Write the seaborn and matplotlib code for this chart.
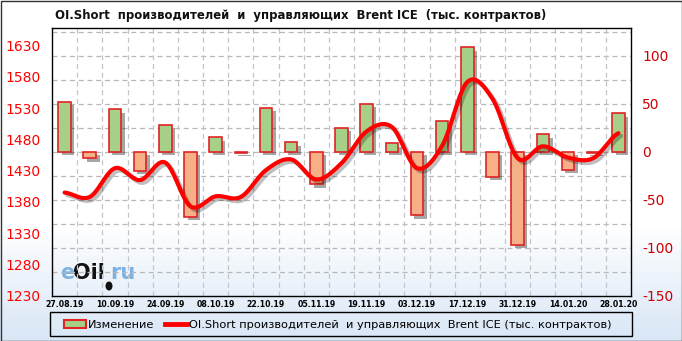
import numpy as np
import pandas as pd
import matplotlib
matplotlib.use("Agg")
import matplotlib.pyplot as plt
import seaborn as sns
from matplotlib import patheffects as pe
from matplotlib.patches import Patch, Rectangle, Ellipse
from matplotlib.lines import Line2D

# ---------------- data ----------------
dates = ["27.08.19", "03.09.19", "10.09.19", "17.09.19", "24.09.19", "01.10.19",
         "08.10.19", "15.10.19", "22.10.19", "29.10.19", "05.11.19", "12.11.19",
         "19.11.19", "26.11.19", "03.12.19", "10.12.19", "17.12.19", "24.12.19",
         "31.12.19", "07.01.20", "14.01.20", "21.01.20", "28.01.20"]
change = [52, -7, 44, -20, 28, -68, 15, -1, 46, 10, -34, 25,
          50, 9, -66, 32, 109, -26, -97, 18, -19, -1, 40]
oi_short = [1395, 1388, 1434, 1415, 1443, 1373, 1389, 1388, 1431, 1448, 1416, 1442,
            1493, 1500, 1434, 1470, 1572, 1545, 1450, 1469, 1451, 1450, 1490]
left_ticks = [1230, 1280, 1330, 1380, 1430, 1480, 1530, 1580, 1630]
right_ticks = [-150, -100, -50, 0, 50, 100]

title = "OI.Short  производителей  и  управляющих  Brent ICE  (тыс. контрактов)"
bar_label = "Изменение"
line_label = "OI.Short производителей  и управляющих  Brent ICE (тыс. контрактов)"

GREEN = "#a6cf88"
ORANGE = "#f6b088"
EDGE = "#e02424"

df = pd.DataFrame({"date": dates, "change": change, "oi": oi_short})
bar_colors = [GREEN if v >= 0 else ORANGE for v in change]

# smooth curve (Catmull-Rom) through the data points
def catmull_rom(y, n=24):
    y = np.asarray(y, float)
    m = len(y)
    xs, ys = [], []
    for i in range(m - 1):
        p0 = y[max(i - 1, 0)]
        p1 = y[i]
        p2 = y[i + 1]
        p3 = y[min(i + 2, m - 1)]
        t = np.linspace(0, 1, n, endpoint=False)
        yy = 0.5 * ((2 * p1) + (-p0 + p2) * t + (2 * p0 - 5 * p1 + 4 * p2 - p3) * t ** 2
                    + (-p0 + 3 * p1 - 3 * p2 + p3) * t ** 3)
        xs.append(i + t)
        ys.append(yy)
    xs.append([m - 1])
    ys.append([y[-1]])
    return np.concatenate(xs), np.concatenate(ys)

sx, sy = catmull_rom(oi_short)
smooth = pd.DataFrame({"x": sx, "y": sy})

# ---------------- figure ----------------
W, H = 682, 341
fig = plt.figure(figsize=(W / 100, H / 100), dpi=100)

# background gradient
bg = fig.add_axes([0, 0, 1, 1], zorder=0)
grad = np.ones((H, 1, 3))
top_c = np.array([1.0, 1.0, 1.0])
bot_c = np.array([0xd8, 0xe6, 0xf6]) / 255
start = 225
for r in range(H):
    f = 0 if r < start else (r - start) / (H - start)
    grad[r, 0] = top_c * (1 - f) + bot_c * f
bg.imshow(grad, aspect="auto", extent=[0, 1, 0, 1], origin="upper")
bg.set_axis_off()

# watermark (behind the plot)
wm_y = 1 - 279 / H
fig.text(60 / W, wm_y, "e", fontsize=15, fontweight="bold", color="#7fb2e0", va="baseline", zorder=1)
fig.text(73.5 / W, wm_y, "Oil", fontsize=15, fontweight="bold", color="#111111", va="baseline", zorder=1)
fig.text(110 / W, wm_y, "ru", fontsize=15, fontweight="bold", color="#7fb2e0", va="baseline", zorder=1)
fig.patches.append(Ellipse((109 / W, 1 - 286 / H), 7 / W, 9 / H, transform=fig.transFigure,
                           facecolor="#111111", edgecolor="none", zorder=1))

L, R, T, B = 52, 631, 28, 295.7
ax = fig.add_axes([L / W, 1 - B / H, (R - L) / W, (B - T) / H], zorder=2)
ax.set_facecolor("none")

sns.barplot(data=df, x="date", y="change", hue="date", palette=bar_colors,
            width=0.5, legend=False, ax=ax, zorder=3, saturation=1)
for p in ax.patches:
    p.set_edgecolor(EDGE)
    p.set_linewidth(1.2)
    p.set_path_effects([pe.SimplePatchShadow(offset=(2.5, -2.5), shadow_rgbFace="black", alpha=0.35),
                        pe.Normal()])

ax.set_xlim(-0.5, len(dates) - 0.5)
ax.set_ylim(-150, 128.9)

# grid
for v in np.arange(-125, 129, 25):
    ax.axhline(v, color="#b8b8b8", lw=0.9, ls=(0, (4, 3)), zorder=1)
for k in range(1, len(dates)):
    ax.axvline(k - 0.5, color="#c4c4c4", lw=0.9, ls=(0, (4, 3)), zorder=1)

ax.set_xticks(range(0, len(dates), 2))
ax.set_xticklabels(dates[::2], fontsize=5.6, fontweight="bold")
ax.tick_params(axis="x", length=0, pad=3)
ax.set_xlabel("")
ax.set_ylabel("")
for s in ax.spines.values():
    s.set_color("black")
    s.set_linewidth(1)

ax2 = ax.twinx()
sns.lineplot(data=smooth, x="x", y="y", ax=ax2, color="#ff0000", lw=3.0,
             estimator=None, sort=False)
for ln in ax2.lines:
    ln.set_solid_capstyle("round")
    ln.set_path_effects([pe.SimpleLineShadow(offset=(2, -2), shadow_color="black", alpha=0.25),
                         pe.Normal()])
ax2.set_ylim(1230, 1658.3)
ax2.set_xlim(-0.5, len(dates) - 0.5)
ax2.set_xlabel("")
ax2.set_ylabel("")
for s in ax2.spines.values():
    s.set_visible(False)

# tick sides (after twinx, which resets them)
ax.yaxis.tick_right()
ax.yaxis.set_label_position("right")
ax.set_yticks(right_ticks)
ax.set_yticklabels([str(v) for v in right_ticks])
ax.tick_params(axis="y", which="both", left=False, labelleft=False, right=False,
               labelright=True, length=0, pad=8, labelsize=10, labelcolor="#cc0000")

ax2.yaxis.tick_left()
ax2.yaxis.set_label_position("left")
ax2.set_yticks(left_ticks)
ax2.set_yticklabels([str(v) for v in left_ticks])
ax2.tick_params(axis="y", which="both", right=False, labelright=False, left=False,
                labelleft=True, length=0, pad=8, labelsize=10, labelcolor="#ff0000")

# title
fig.text(55 / W, 1 - 15 / H, title, fontsize=8.4, fontweight="bold",
         va="center", ha="left", color="#111111")

# legend
handles = [Patch(facecolor=GREEN, edgecolor=EDGE, linewidth=1.5),
           Line2D([0], [0], color="#ff0000", lw=3.5)]
fig.legend(handles, [bar_label, line_label], loc="center left",
           bbox_to_anchor=(54 / W, 1 - 325 / H), ncol=2, frameon=False,
           fontsize=8.2, handlelength=1.9, handletextpad=0.15, columnspacing=1.0,
           handleheight=0.7)
fig.patches.append(Rectangle((50 / W, 1 - 336 / H), 582 / W, 24 / H,
                             transform=fig.transFigure, fill=False,
                             edgecolor="black", lw=1, zorder=5))
# outer border
fig.patches.append(Rectangle((0.5 / W, 0.5 / H), 1 - 1 / W, 1 - 1 / H,
                             transform=fig.transFigure, fill=False,
                             edgecolor="#333333", lw=1, zorder=5))

fig.savefig("out.png", dpi=100)
